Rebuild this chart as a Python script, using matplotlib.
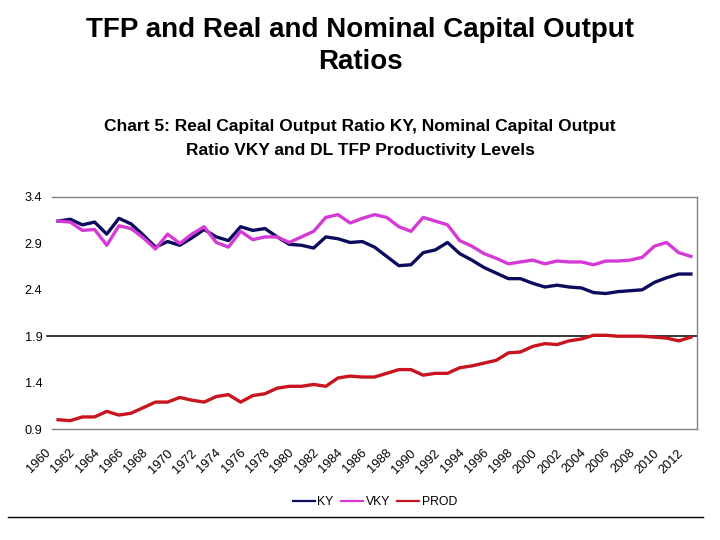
import matplotlib
matplotlib.use("Agg")
import matplotlib.pyplot as plt
from matplotlib import font_manager
from matplotlib.transforms import ScaledTranslation
from matplotlib.lines import Line2D

years = list(range(1960, 2013))
ky = [3.14, 3.16, 3.10, 3.13, 3.00, 3.17, 3.11, 2.99, 2.86, 2.92,
      2.88, 2.96, 3.05, 2.97, 2.93, 3.08, 3.04, 3.06, 2.97, 2.89,
      2.88, 2.85, 2.97, 2.95, 2.91, 2.92, 2.86, 2.76, 2.66, 2.67,
      2.80, 2.83, 2.91, 2.79, 2.72, 2.64, 2.58, 2.52, 2.52, 2.47,
      2.43, 2.45, 2.43, 2.42, 2.37, 2.36, 2.38, 2.39, 2.40, 2.48,
      2.53, 2.57, 2.57]
vky = [3.14, 3.13, 3.04, 3.05, 2.88, 3.09, 3.06, 2.96, 2.84, 3.00,
       2.90, 3.00, 3.08, 2.91, 2.86, 3.03, 2.94, 2.97, 2.97, 2.91,
       2.97, 3.03, 3.18, 3.21, 3.12, 3.17, 3.21, 3.18, 3.08, 3.03,
       3.18, 3.14, 3.10, 2.93, 2.87, 2.79, 2.74, 2.68, 2.70, 2.72,
       2.68, 2.71, 2.70, 2.70, 2.67, 2.71, 2.71, 2.72, 2.75, 2.87,
       2.91, 2.80, 2.76]
prod = [1.00, 0.99, 1.03, 1.03, 1.09, 1.05, 1.07, 1.13, 1.19, 1.19,
        1.24, 1.21, 1.19, 1.25, 1.27, 1.19, 1.26, 1.28, 1.34, 1.36,
        1.36, 1.38, 1.36, 1.45, 1.47, 1.46, 1.46, 1.50, 1.54, 1.54,
        1.48, 1.50, 1.50, 1.56, 1.58, 1.61, 1.64, 1.72, 1.73, 1.79,
        1.82, 1.81, 1.85, 1.87, 1.91, 1.91, 1.90, 1.90, 1.90, 1.89,
        1.88, 1.85, 1.89]
yticks = [0.9, 1.4, 1.9, 2.4, 2.9, 3.4]
xtick_years = list(range(1960, 2013, 2))

main_title = ["TFP and Real and Nominal Capital Output", "Ratios"]
chart_title = ["Chart 5: Real Capital Output Ratio KY, Nominal Capital Output",
               "Ratio VKY and DL TFP Productivity Levels"]

names = {f.name for f in font_manager.fontManager.ttflist}
narrow = "Liberation Sans Narrow" if "Liberation Sans Narrow" in names else None
base = "Liberation Sans" if "Liberation Sans" in names else "DejaVu Sans"
plt.rcParams['font.family'] = [base, 'DejaVu Sans']

fig = plt.figure(figsize=(7.2, 5.4), dpi=100)
ax = fig.add_axes([52/720, 1-429/540, (697-52)/720, (429-197)/540])

idx = list(range(len(years)))
c_ky, c_vky, c_prod = "#0c0c5e", "#d63ad6", "#c8141e"
ax.plot(idx, ky, color=c_ky, lw=2.4, label="KY")
ax.plot(idx, vky, color=c_vky, lw=2.4, label="VKY")
ax.plot(idx, prod, color=c_prod, lw=2.4, label="PROD")
ax.axhline(1.9, xmin=-0.007, color="black", lw=1.1, clip_on=False, zorder=1)

ax.set_xlim(-0.5, len(years) - 0.5)
ax.set_ylim(0.9, 3.4)
ax.set_yticks(yticks)
ax.set_yticklabels([f"{v:.1f}" for v in yticks])
ax.set_xticks([years.index(y) for y in xtick_years])
ax.set_xticklabels([str(y) for y in xtick_years], rotation=45, ha='right', va='top')
ax.tick_params(axis='x', length=0, pad=13, labelsize=9.2)
ax.tick_params(axis='y', length=0, pad=7, labelsize=9.2)
for lbl in ax.get_yticklabels():
    if narrow:
        lbl.set_family([narrow, 'DejaVu Sans'])
        lbl.set_fontsize(10)
off = ScaledTranslation(-5/100, 0, fig.dpi_scale_trans)
for lbl in ax.get_xticklabels():
    lbl.set_transform(lbl.get_transform() + off)

for s in ["top", "right", "bottom"]:
    ax.spines[s].set_color("#808080")
    ax.spines[s].set_linewidth(1.0)
ax.spines["left"].set_visible(False)

fig.text(0.5, 1-30/540, main_title[0], ha='center', va='center', fontsize=20, fontweight='bold')
fig.text(0.5, 1-62/540, main_title[1], ha='center', va='center', fontsize=20, fontweight='bold')
if narrow:
    cfam, csize = [narrow, 'DejaVu Sans'], 15
else:
    cfam, csize = [base, 'DejaVu Sans'], 12.5
fig.text(0.5, 1-126/540, chart_title[0], ha='center', va='center', fontsize=csize,
         fontweight='bold', family=cfam, color="black")
fig.text(0.5, 1-151/540, chart_title[1], ha='center', va='center', fontsize=csize,
         fontweight='bold', family=cfam, color="black")

leg = fig.legend(loc='center', bbox_to_anchor=(375/720, 1-502/540), ncol=3, frameon=False,
                 fontsize=8.8, handlelength=1.8, handletextpad=0.2, columnspacing=0.6)
for h in leg.get_lines():
    h.set_linewidth(1.6)

fig.add_artist(Line2D([8/720, 703/720], [1-517/540, 1-517/540], color="black", lw=1.0,
                      transform=fig.transFigure))

fig.savefig("out.png", dpi=100)
